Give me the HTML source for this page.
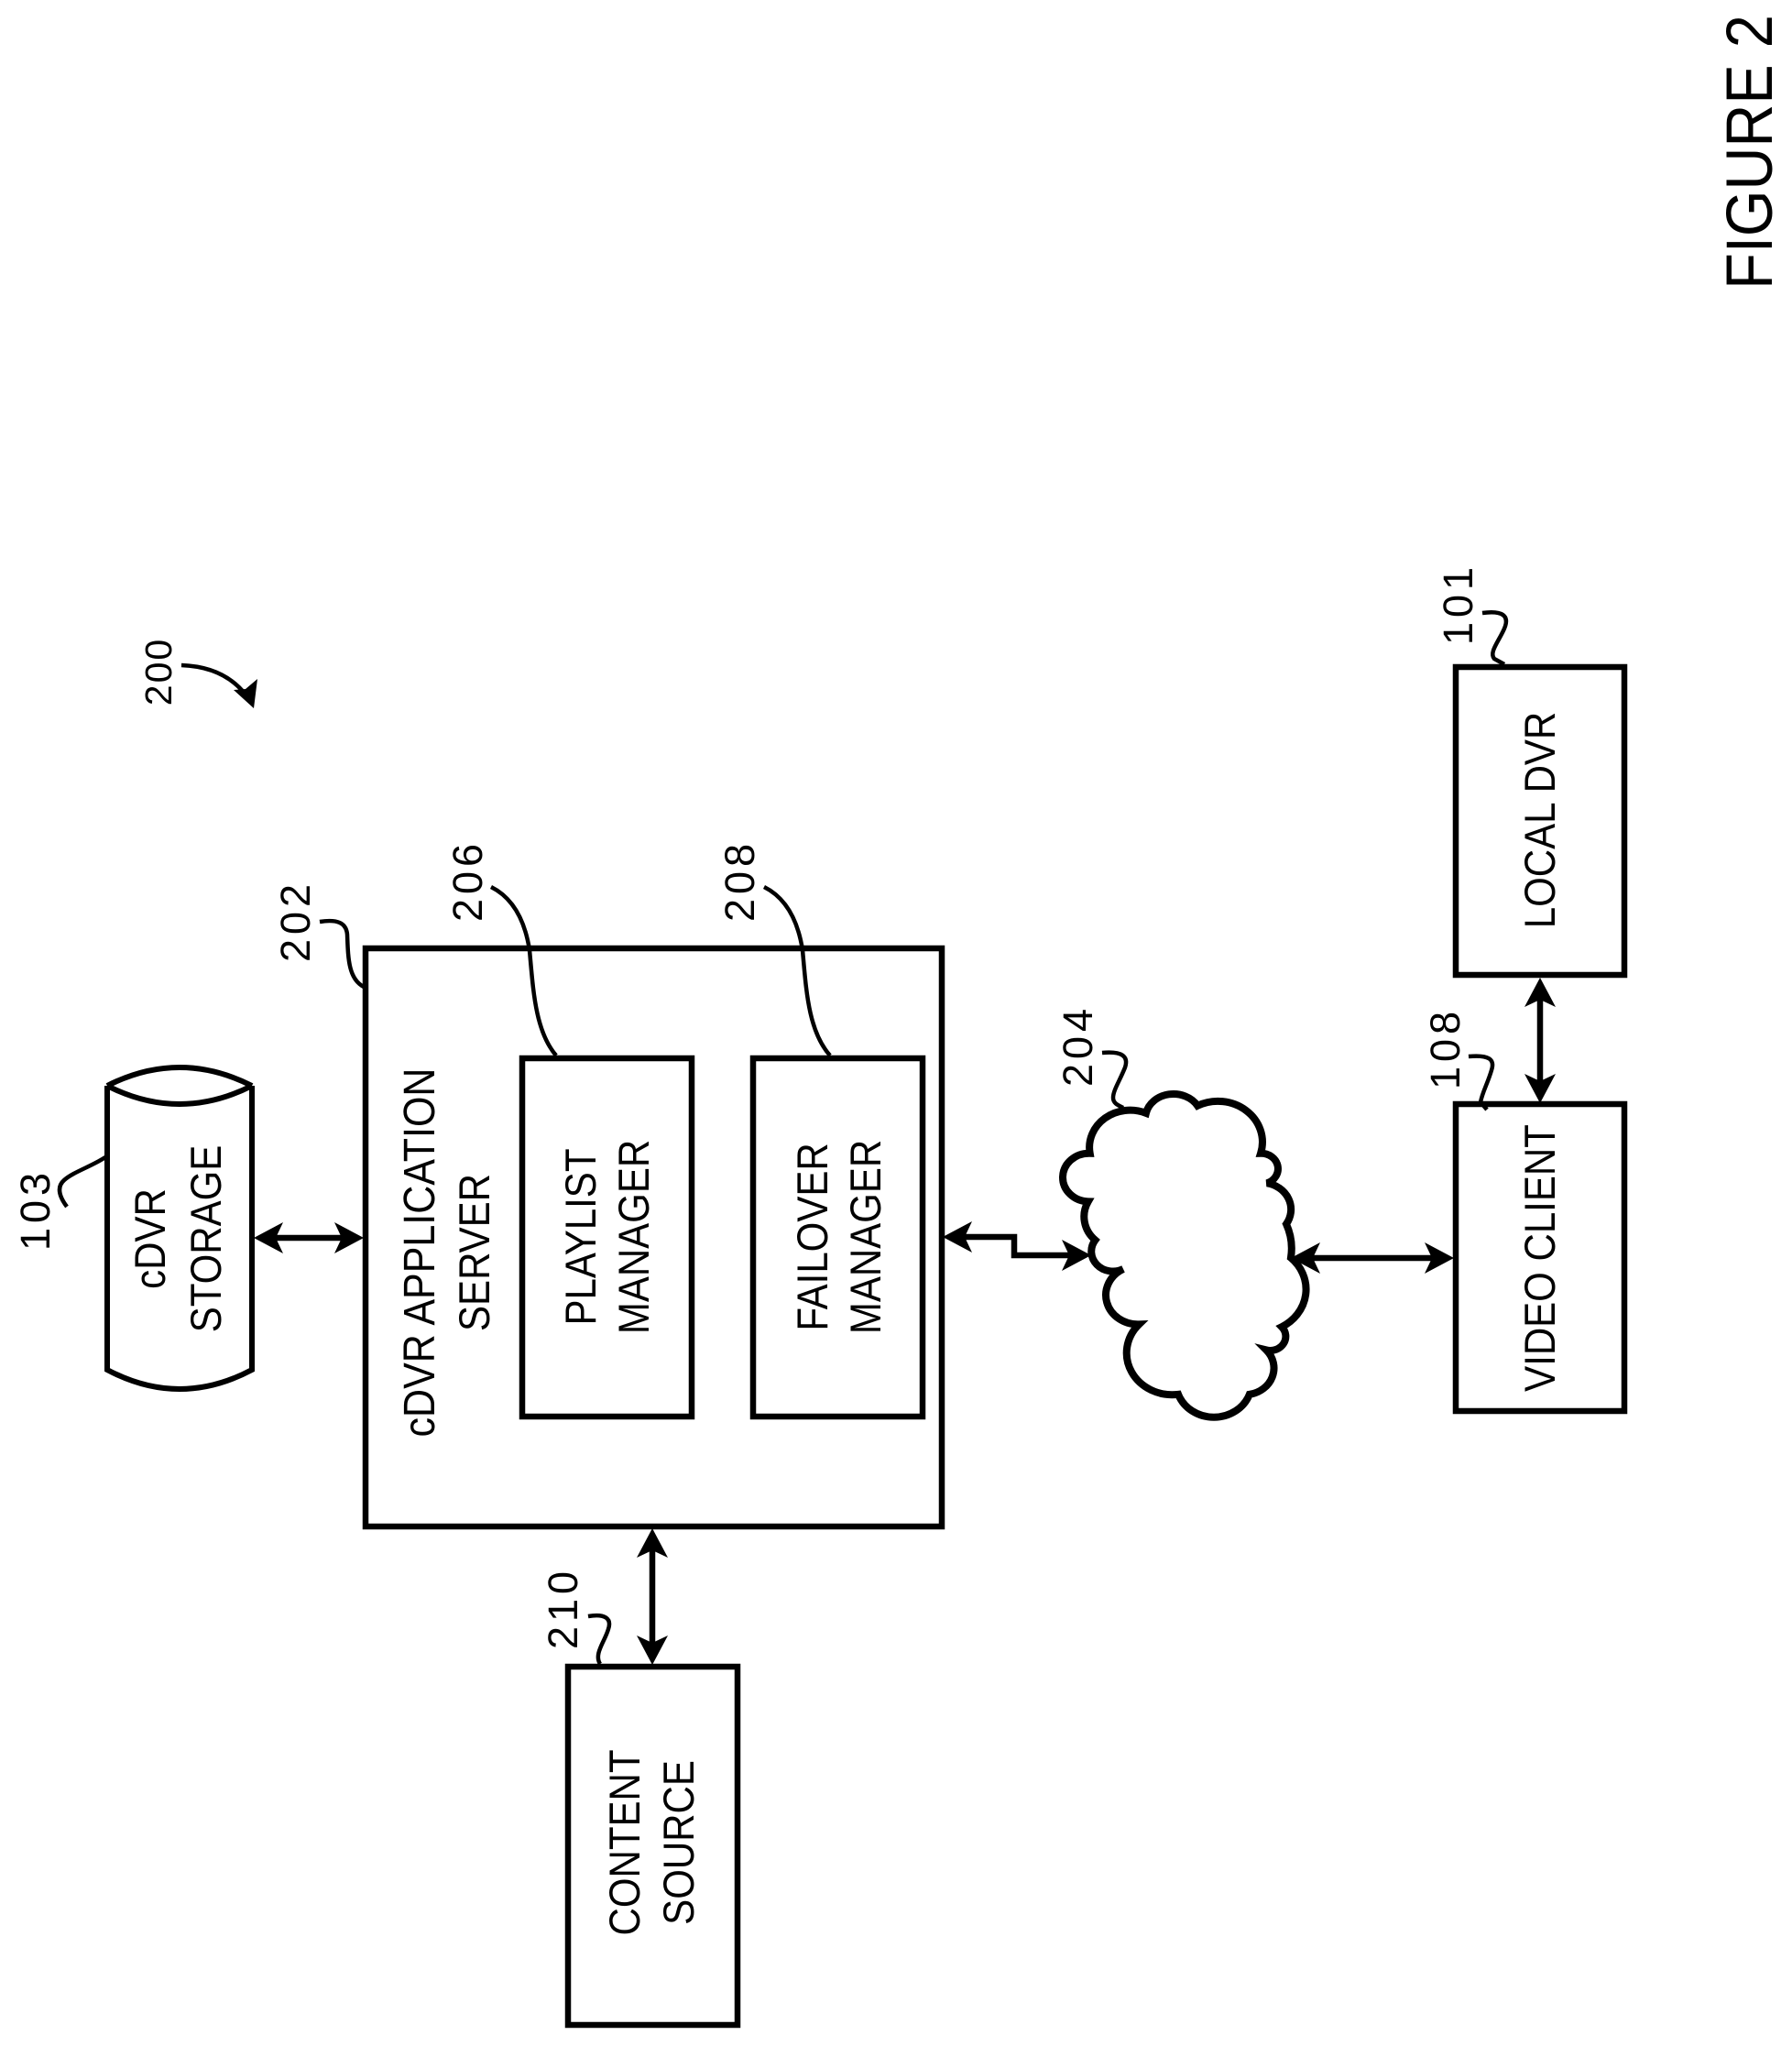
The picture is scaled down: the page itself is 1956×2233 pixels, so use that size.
<!DOCTYPE html>
<html><head><meta charset="utf-8"><style>
html,body{margin:0;padding:0;background:#fff}
svg{display:block}
text{font-family:"Liberation Sans",sans-serif;fill:#000;text-anchor:middle}
.b{font-size:42px}
.n{font-size:45px;letter-spacing:5px}
</style></head><body>
<svg width="1956" height="2233" viewBox="0 0 1956 2233" xmlns="http://www.w3.org/2000/svg">
<defs>
<marker id="a" markerUnits="userSpaceOnUse" markerWidth="36" markerHeight="36" refX="21" refY="18" orient="auto-start-reverse">
<path d="M32,18 L0,1 L8,18 L0,35 Z" fill="#000"/>
</marker>
</defs>
<rect width="1956" height="2233" fill="#fff"/>
<g fill="none" stroke="#000" stroke-width="6.5">
<rect x="399" y="1035" width="629" height="631"/>
<rect x="570" y="1155" width="185" height="391"/>
<rect x="822" y="1155" width="185" height="391"/>
<rect x="1589" y="728" width="184" height="336"/>
<rect x="1589" y="1205" width="184" height="335"/>
<rect x="620" y="1819" width="185" height="391"/>
<path d="M117,1185 Q196,1145 275,1185 M117,1185 Q196,1225 275,1185 M117,1185 V1495 Q196,1537 275,1495 V1185" stroke-width="6"/>
<path d="M288,1351 H386" marker-start="url(#a)" marker-end="url(#a)"/>
<path d="M712,1679 V1806" marker-start="url(#a)" marker-end="url(#a)"/>
<path d="M1040,1350 H1107 V1370 H1180" marker-start="url(#a)" marker-end="url(#a)"/>
<path d="M1420,1373 H1576" marker-start="url(#a)" marker-end="url(#a)"/>
<path d="M1681,1078 V1193" marker-start="url(#a)" marker-end="url(#a)"/>
<g transform="translate(1050,1050) scale(.3827,.3508)">
<path vector-effect="non-scaling-stroke" stroke-width="8" d="M525,470 A80,75 0 0 1 672,447 A127,127 0 0 1 852,595 A48,48 0 0 1 870,688 A83,83 0 0 1 925,815 A200,200 0 0 1 938,920 A133,133 0 0 1 912,1135 A44,44 0 0 1 868,1207 A83,83 0 0 1 820,1345 A108,108 0 0 1 617,1345 A130,130 0 0 1 505,1127 A91,91 0 0 1 460,955 A62,62 0 0 1 380,865 A100,100 0 0 1 360,745 A75,75 0 0 1 365,595 A116,116 0 0 1 525,470 Z"/>
</g>
</g>
<g fill="none" stroke="#000" stroke-width="4.5">
<path d="M1618,669 C1640,666 1648,672 1642,686 C1636,700 1625,712 1631,719 L1642,725"/>
<path d="M1603,1153 C1625,1151 1632,1156 1628,1168 C1624,1182 1618,1192 1616,1203 L1623,1211"/>
<path d="M1203,1149 C1225,1147 1232,1153 1228,1165 C1222,1180 1215,1190 1215,1198 C1215,1204 1220,1206 1226,1209"/>
<path d="M73,1317 C64,1305 62,1295 70,1288 C80,1279 100,1273 115,1263"/>
<path d="M349,1006 C368,1003 378,1007 379,1020 C380,1045 380,1068 397,1077"/>
<path d="M536,968 C560,980 573,1005 578,1037 C582,1080 584,1125 607,1152"/>
<path d="M834,968 C858,980 871,1005 876,1037 C880,1080 882,1125 906,1152"/>
<path d="M642,1764 C660,1761 668,1766 664,1778 C660,1792 648,1805 655,1816"/>
<path d="M198,726 C225,727 250,735 268,758"/>
</g>
<path d="M277,773 L255,753 L268,752 L281,741 Z" fill="#000"/>

<text transform="translate(1934,166) rotate(-90) scale(1,1.1)" font-size="65">FIGURE 2</text>
<text class="n" style="font-size:41px;letter-spacing:2px" transform="translate(187,733) rotate(-90)">200</text>
<text class="n" transform="translate(1607,659) rotate(-90)">101</text>
<text class="n" transform="translate(1593,1144) rotate(-90)">108</text>
<text class="n" transform="translate(1192,1141) rotate(-90)">204</text>
<text class="n" transform="translate(338,1005) rotate(-90)">202</text>
<text class="n" transform="translate(526,961) rotate(-90)">206</text>
<text class="n" transform="translate(823,961) rotate(-90)">208</text>
<text class="n" transform="translate(54,1320) rotate(-90)">103</text>
<text class="n" transform="translate(630,1755) rotate(-90)">210</text>

<text class="b" transform="translate(180,1352) rotate(-90) scale(1,1.12)">cDVR</text>
<text class="b" transform="translate(241,1352) rotate(-90) scale(1,1.12)">STORAGE</text>
<text class="b" style="font-size:43px" transform="translate(474,1367) rotate(-90) scale(1,1.12)">cDVR APPLICATION</text>
<text class="b" transform="translate(534,1367) rotate(-90) scale(1,1.12)">SERVER</text>
<text class="b" transform="translate(650,1350) rotate(-90) scale(1,1.12)">PLAYLIST</text>
<text class="b" transform="translate(708,1350) rotate(-90) scale(1,1.12)">MANAGER</text>
<text class="b" transform="translate(903,1350) rotate(-90) scale(1,1.12)">FAILOVER</text>
<text class="b" transform="translate(961,1350) rotate(-90) scale(1,1.12)">MANAGER</text>
<text class="b" transform="translate(1697,895) rotate(-90) scale(1,1.12)">LOCAL DVR</text>
<text class="b" transform="translate(1697,1373) rotate(-90) scale(1,1.12)">VIDEO CLIENT</text>
<text class="b" transform="translate(698,2011) rotate(-90) scale(1,1.12)">CONTENT</text>
<text class="b" transform="translate(757,2011) rotate(-90) scale(1,1.12)">SOURCE</text>
</svg>
</body></html>
